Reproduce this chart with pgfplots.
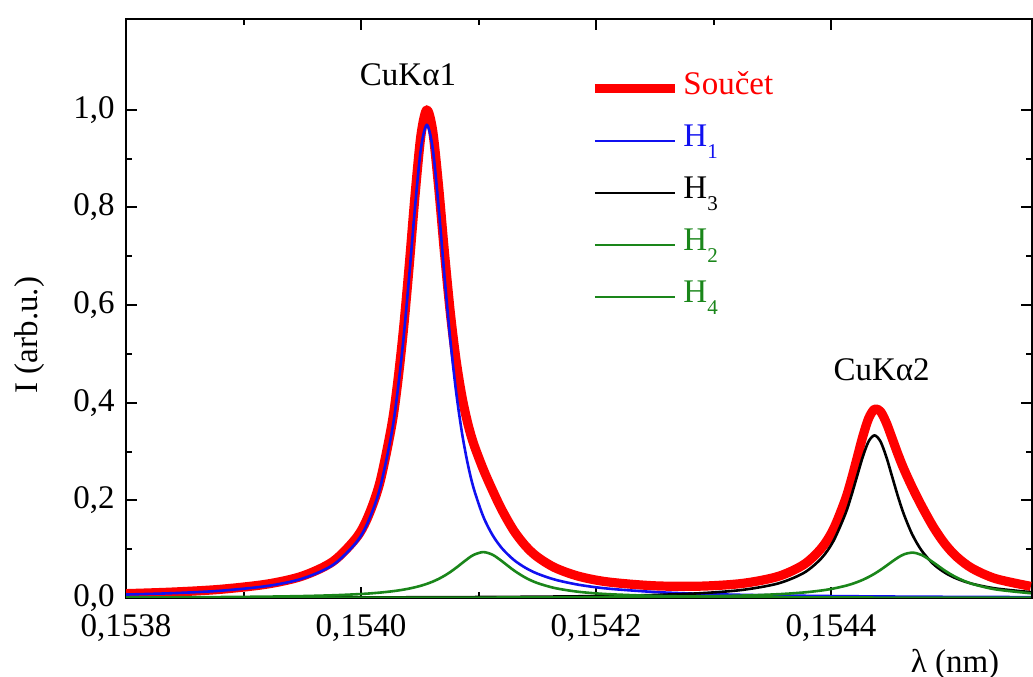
\documentclass[border=0pt]{standalone}
\usepackage{fontspec}
\setmainfont{Liberation Serif}
\usepackage{pgfplots}
\pgfplotsset{compat=1.18}
\usepackage{pgfplotstable}

\definecolor{sumRed}{HTML}{FF0000}
\definecolor{hBlue}{HTML}{1010F0}
\definecolor{hGreen}{HTML}{1A861A}

\newcommand\sub[1]{\raisebox{-0.8ex}{\fontsize{10.5}{12}\selectfont #1}}

% t = (lambda - 0.1538 nm) * 1e5, i.e. in units of 0.00001 nm
\pgfplotstableread{
t    S       H1      H2      H3      H4
0    0.00885 0.00704 0.00103 0.00054 0.00024
4    0.01212 0.00986 0.00136 0.00062 0.00028
8    0.01767 0.01477 0.00188 0.00071 0.00031
12   0.02843 0.02449 0.00276 0.00082 0.00036
15   0.04487 0.03966 0.00389 0.00092 0.00040
17.6 0.07456 0.06755 0.00553 0.00103 0.00045
19.6 0.12312 0.11391 0.00759 0.00113 0.00049
20.6 0.16671 0.15596 0.00906 0.00118 0.00051
21.6 0.23621 0.22346 0.01098 0.00124 0.00053
22.6 0.35223 0.33684 0.01354 0.00130 0.00055
23.1 0.43775 0.42070 0.01515 0.00133 0.00057
23.6 0.54729 0.52831 0.01704 0.00136 0.00058
24.1 0.68079 0.65952 0.01928 0.00140 0.00059
24.6 0.82574 0.80176 0.02194 0.00143 0.00061
25.1 0.94813 0.92093 0.02511 0.00147 0.00062
25.6 1.00000 0.96893 0.02892 0.00151 0.00064
26.1 0.95663 0.92093 0.03350 0.00155 0.00065
26.6 0.84302 0.80176 0.03900 0.00159 0.00067
27.1 0.70740 0.65952 0.04556 0.00163 0.00069
27.6 0.58393 0.52831 0.05324 0.00168 0.00070
28.1 0.48513 0.42070 0.06198 0.00173 0.00072
28.6 0.41077 0.33684 0.07141 0.00178 0.00074
29.1 0.35589 0.27261 0.08069 0.00183 0.00076
29.6 0.31459 0.22346 0.08847 0.00188 0.00078
30.4 0.26372 0.16694 0.09400 0.00197 0.00081
31.2 0.21992 0.12853 0.08847 0.00207 0.00085
32   0.17982 0.10156 0.07520 0.00217 0.00089
33   0.13791 0.07803 0.05662 0.00232 0.00094
34   0.10663 0.06167 0.04149 0.00247 0.00100
35   0.08425 0.04988 0.03066 0.00265 0.00106
36.5 0.06200 0.03759 0.02029 0.00295 0.00117
38.5 0.04460 0.02714 0.01269 0.00343 0.00134
41   0.03287 0.01921 0.00785 0.00421 0.00160
45   0.02490 0.01219 0.00431 0.00617 0.00223
49   0.02428 0.00841 0.00270 0.00988 0.00329
52.5 0.02996 0.00638 0.00193 0.01666 0.00499
55.5 0.04418 0.00517 0.00150 0.02979 0.00772
57.7 0.06874 0.00449 0.00127 0.05163 0.01135
59.2 0.10255 0.00410 0.00115 0.08190 0.01540
60.2 0.14090 0.00387 0.00107 0.11665 0.01931
61.2 0.20047 0.00365 0.00100 0.17110 0.02472
61.7 0.24011 0.00355 0.00097 0.20740 0.02819
62.2 0.28511 0.00346 0.00094 0.24839 0.03232
62.7 0.33070 0.00336 0.00091 0.28922 0.03721
63.2 0.36801 0.00328 0.00089 0.32086 0.04298
63.7 0.38678 0.00319 0.00086 0.33301 0.04972
64.2 0.38223 0.00311 0.00084 0.32086 0.05742
64.7 0.35895 0.00303 0.00081 0.28922 0.06589
65.2 0.32679 0.00295 0.00079 0.24839 0.07466
65.7 0.29391 0.00288 0.00077 0.20740 0.08286
66.2 0.26394 0.00281 0.00075 0.17110 0.08928
66.9 0.22701 0.00272 0.00072 0.13057 0.09300
67.7 0.18880 0.00261 0.00069 0.09730 0.08820
68.7 0.14566 0.00250 0.00065 0.06959 0.07292
69.7 0.11044 0.00238 0.00062 0.05163 0.05581
70.7 0.08418 0.00228 0.00059 0.03956 0.04175
72   0.06079 0.00215 0.00055 0.02913 0.02896
74   0.03960 0.00198 0.00050 0.01952 0.01760
77   0.02381 0.00176 0.00044 0.01199 0.00962
}\cuka

\begin{document}
\fontsize{16.5}{19.8}\selectfont
\begin{tikzpicture}
\begin{axis}[
    width=453pt, height=289.5pt, scale only axis,
    xmin=0, xmax=77.1, ymin=0, ymax=1.186,
    xtick={0,20,40,60},
    xticklabels={{0,1538},{0,1540},{0,1542},{0,1544}},
    xticklabel style={yshift=-2.5pt},
    minor x tick num=1,
    ytick={0,0.2,0.4,0.6,0.8,1.0},
    minor y tick num=1,
    yticklabel style={/pgf/number format/.cd, fixed, fixed zerofill,
      precision=1, use comma, assume math mode=true},
    tick align=inside,
    major tick length=5.5pt, minor tick length=3pt,
    axis line style={line width=1pt},
    every tick/.style={black, line width=1pt},
    xlabel={λ (nm)},
    xlabel style={at={(axis description cs:0.915,-0.114)}, anchor=center},
    ylabel={I (arb.u.)},
    ylabel style={at={(axis description cs:-0.106,0.454)}, anchor=center},
    legend style={draw=none, fill=none, at={(axis description cs:0.512,0.918)},
      anchor=north west, row sep=4pt, inner sep=0pt,
      nodes={inner sep=2pt, text height=12pt, text depth=6pt}},
    legend cell align=left,
    legend image code/.code={\draw[#1] (0pt,0pt) -- (40pt,0pt);},
  ]
  \addplot[sumRed, line width=4.6pt, smooth, tension=0.5, line join=round]
    table[x=t, y=S] {\cuka};
  \addlegendentry{\textcolor{sumRed}{Součet}}
  \addplot[hBlue, line width=1.3pt, smooth, tension=0.5]
    table[x=t, y=H1] {\cuka};
  \addlegendentry{\textcolor{hBlue}{H\sub{1}}}
  \addplot[black, line width=1.3pt, smooth, tension=0.5]
    table[x=t, y=H3] {\cuka};
  \addlegendentry{H\sub{3}}
  \addplot[hGreen, line width=1.3pt, smooth, tension=0.5]
    table[x=t, y=H2] {\cuka};
  \addlegendentry{\textcolor{hGreen}{H\sub{2}}}
  \addplot[hGreen, line width=1.3pt, smooth, tension=0.5]
    table[x=t, y=H4] {\cuka};
  \addlegendentry{\textcolor{hGreen}{H\sub{4}}}

  \node at (axis cs:24.0,1.072) {CuKα1};
  \node at (axis cs:64.3,0.467) {CuKα2};

  \coordinate (bbsw) at (rel axis cs:-0.1391,-0.1364);
  \coordinate (bbne) at (rel axis cs:1.0011,1.0328);
\end{axis}
\pgfresetboundingbox
\path[use as bounding box] (bbsw) rectangle (bbne);
\end{tikzpicture}
\end{document}
